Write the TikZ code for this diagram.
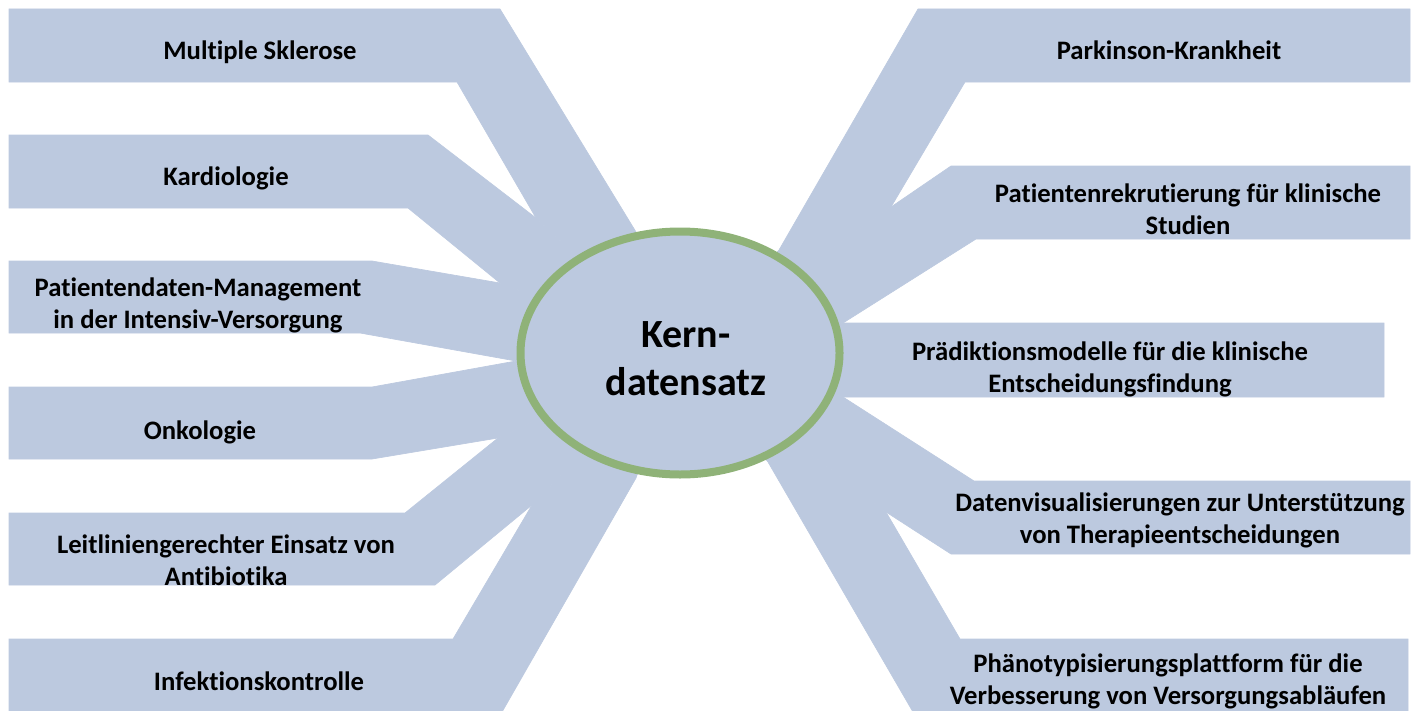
\documentclass[tikz,border=0pt]{standalone}
\usepackage{fontspec}
\setmainfont{Carlito}[Ligatures=NoCommon]
\usetikzlibrary{shapes.geometric}

\definecolor{armblue}{RGB}{188,201,223}
\definecolor{rimgreen}{RGB}{143,178,120}

\tikzset{every picture/.style={line width=0.75pt}}

\begin{document}
\begin{tikzpicture}[x=0.75pt,y=0.75pt,yscale=-1,xscale=1,
    arm/.style={fill=armblue,draw=armblue,line width=0.5},
    topic/.style={anchor=base,align=center,inner sep=0.75pt,font=\bfseries\fontsize{20}{24}\selectfont},
    core/.style={ellipse,draw=rimgreen,fill=armblue,line width=6pt,minimum width=239.25pt,minimum height=182.25pt},
    coretext/.style={anchor=base,align=center,inner sep=0.75pt,font=\bfseries\fontsize{30}{36}\selectfont}]
    \useasboundingbox (0,0) rectangle (1412,710);

    \coordinate (ctr) at (680,353);

    %Shape: Polygon left arms
    \fill [arm] (9,9) -- (500,9) -- (636,232) -- (ctr) -- (536,218) -- (457,82) -- (9,82) -- cycle ;
    \fill [arm] (9,135) -- (428,135) -- (536,218) -- (ctr) -- (500,283) -- (408,208) -- (9,208) -- cycle ;
    \fill [arm] (9,261) -- (372,261) -- (500,283) -- (ctr) -- (516,361) -- (360,333) -- (9,333) -- cycle ;
    \fill [arm] (9,387) -- (372,387) -- (516,361) -- (ctr) -- (498,438) -- (372,459) -- (9,459) -- cycle ;
    \fill [arm] (9,513) -- (405,513) -- (498,438) -- (ctr) -- (532,505) -- (435,585) -- (9,585) -- cycle ;
    \fill [arm] (9,639) -- (453,639) -- (532,505) -- (ctr) -- (636,478) -- (502,712) -- (9,712) -- cycle ;
    %Shape: Polygon right arms
    \fill [arm] (918,9) -- (1410,9) -- (1410,82) -- (965,82) -- (891,207) -- (ctr) -- (779,250) -- cycle ;
    \fill [arm] (951,166) -- (1410,166) -- (1410,239) -- (976,239) -- (843,323) -- (ctr) -- (891,207) -- cycle ;
    \fill [arm] (843,323) -- (1384,323) -- (1384,397) -- (843,397) -- (ctr) -- cycle ;
    \fill [arm] (974,481) -- (1410,481) -- (1410,554) -- (951,554) -- (886,512) -- (ctr) -- (843,397) -- cycle ;
    \fill [arm] (960,639) -- (1408,639) -- (1408,712) -- (913,712) -- (768,462) -- (ctr) -- (886,512) -- cycle ;

    %Shape: Ellipse
    \node [core] (kern) at (ctr) {};
    % Text Node
    \node [coretext] (kernlbl) at (686,395) {Kern-\\datensatz};

    % Text Node
    \node [topic] (ms) at (260,60) {Multiple Sklerose};
    % Text Node
    \node [topic] (kardio) at (226,185) {Kardiologie};
    % Text Node
    \node [topic] (pdms) at (198,328) {Patientendaten-Management\\in der Intensiv-Versorgung};
    % Text Node
    \node [topic] (onko) at (200,439) {Onkologie};
    % Text Node
    \node [topic] (abs) at (226,585) {Leitliniengerechter Einsatz von\\Antibiotika};
    % Text Node
    \node [topic] (infekt) at (259,690) {Infektionskontrolle};
    % Text Node
    \node [topic] (parkinson) at (1169,60) {Parkinson-Krankheit};
    % Text Node
    \node [topic] (rekrut) at (1188,234) {Patientenrekrutierung für klinische\\Studien};
    % Text Node
    \node [topic] (praed) at (1110,392) {Prädiktionsmodelle  für die klinische\\Entscheidungsfindung};
    % Text Node
    \node [topic] (visual) at (1180,543) {Datenvisualisierungen zur Unterstützung\\von Therapieentscheidungen};
    % Text Node
    \node [topic] (pheno) at (1168,704) {Phänotypisierungsplattform  für die\\Verbesserung von Versorgungsabläufen};

\end{tikzpicture}
\end{document}
